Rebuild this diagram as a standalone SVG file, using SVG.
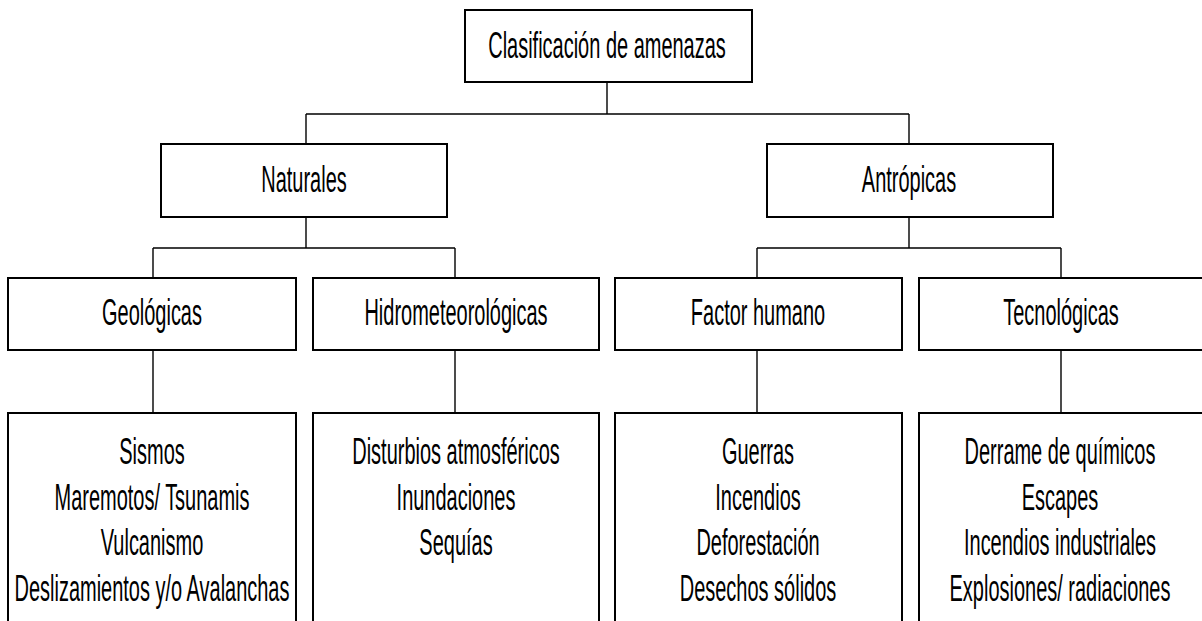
<svg xmlns="http://www.w3.org/2000/svg" width="1202" height="621" viewBox="0 0 1202 621">
<style>
.box{fill:#fff;stroke:#000;stroke-width:2}
.c{fill:none;stroke:#000;stroke-width:1.4}
text{font-family:"Liberation Sans",Arial,sans-serif;font-size:37px;fill:#000;text-anchor:middle}
</style>
<rect width="1202" height="621" fill="#fff"/>
<g id="connectors">
<path class="c" d="M607 82V114M306 114H909M306 114V144M909 114V144"/>
<path class="c" d="M306 217V248M153 248H455M153 248V278M455 248V278"/>
<path class="c" d="M909 217V248M757 248H1061M757 248V278M1061 248V278"/>
<path class="c" d="M153 350V413M455 350V413M757 350V413M1061 350V413"/>
</g>
<g id="root">
<rect class="box" x="465" y="10" width="287" height="72"/>
<text transform="translate(607,58) scale(0.54,1)">Clasificación de amenazas</text>
</g>
<g id="naturales">
<rect class="box" x="161" y="144" width="286" height="73"/>
<text transform="translate(304,192) scale(0.54,1)">Naturales</text>
</g>
<g id="antropicas">
<rect class="box" x="767" y="144" width="286" height="73"/>
<text transform="translate(909,192) scale(0.54,1)">Antrópicas</text>
</g>
<g id="geologicas">
<rect class="box" x="8" y="278" width="288" height="72"/>
<text transform="translate(152,325) scale(0.54,1)">Geológicas</text>
</g>
<g id="hidro">
<rect class="box" x="313" y="278" width="286" height="72"/>
<text transform="translate(456,325) scale(0.54,1)">Hidrometeorológicas</text>
</g>
<g id="factor">
<rect class="box" x="615" y="278" width="287" height="72"/>
<text transform="translate(758,325) scale(0.54,1)">Factor humano</text>
</g>
<g id="tecno">
<rect class="box" x="919" y="278" width="285" height="72"/>
<text transform="translate(1061,325) scale(0.54,1)">Tecnológicas</text>
</g>
<g id="geo-list">
<rect class="box" x="8" y="413" width="288" height="220"/>
<text transform="translate(152,464) scale(0.54,1)">Sismos</text>
<text transform="translate(152,510) scale(0.54,1)">Maremotos/ Tsunamis</text>
<text transform="translate(152,555) scale(0.54,1)">Vulcanismo</text>
<text transform="translate(152,601) scale(0.54,1)">Deslizamientos y/o Avalanchas</text>
</g>
<g id="hidro-list">
<rect class="box" x="313" y="413" width="286" height="220"/>
<text transform="translate(456,464) scale(0.54,1)">Disturbios atmosféricos</text>
<text transform="translate(456,510) scale(0.54,1)">Inundaciones</text>
<text transform="translate(456,555) scale(0.54,1)">Sequías</text>
</g>
<g id="factor-list">
<rect class="box" x="615" y="413" width="287" height="220"/>
<text transform="translate(758,464) scale(0.54,1)">Guerras</text>
<text transform="translate(758,510) scale(0.54,1)">Incendios</text>
<text transform="translate(758,555) scale(0.54,1)">Deforestación</text>
<text transform="translate(758,601) scale(0.54,1)">Desechos sólidos</text>
</g>
<g id="tecno-list">
<rect class="box" x="919" y="413" width="285" height="220"/>
<text transform="translate(1060,464) scale(0.54,1)">Derrame de químicos</text>
<text transform="translate(1060,510) scale(0.54,1)">Escapes</text>
<text transform="translate(1060,555) scale(0.54,1)">Incendios industriales</text>
<text transform="translate(1060,601) scale(0.54,1)">Explosiones/ radiaciones</text>
</g>
</svg>
